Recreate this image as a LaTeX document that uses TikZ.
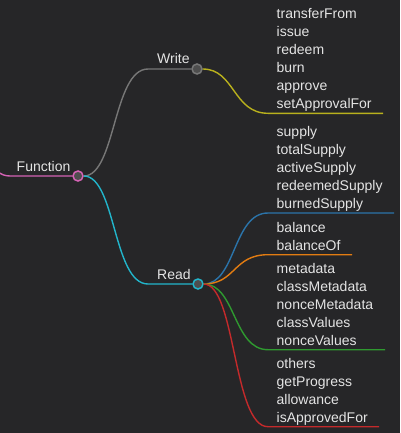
\documentclass[tikz,border=0pt]{standalone}
\usepackage{fontspec}
\setmainfont{Liberation Sans}
\definecolor{bgc}{HTML}{262628}
\definecolor{txt}{HTML}{E4E4E4}
\definecolor{hubfill}{HTML}{4E4E4E}
\definecolor{cfun}{HTML}{D563B5}
\definecolor{cwrite}{HTML}{777777}
\definecolor{cread}{HTML}{22B5CB}
\definecolor{cyel}{HTML}{B9B11D}
\definecolor{cblue}{HTML}{2B74AA}
\definecolor{corange}{HTML}{E27C12}
\definecolor{cgreen}{HTML}{2F9A30}
\definecolor{cred}{HTML}{C42A2B}
\begin{document}
\begin{tikzpicture}[
			x=1pt, y=-1pt,
			every node/.style={text=txt, font=\fontsize{14}{18}\selectfont, inner sep=0pt},
			hub/.style={circle, draw=#1, fill=hubfill, line width=1.5pt, minimum size=10pt},
			lbl/.style={anchor=base west},
			link/.style={draw=#1, line width=1.4pt}
		]
		\fill[bgc] (0,0) rectangle (400,433);
		\clip (0,0) rectangle (400,433);
		% hubs
		\node[hub=cfun] (fn) at (78,176) {};
		\node[hub=cwrite] (wr) at (197,69) {};
		\node[hub=cread] (rd) at (198,284) {};
		\node[lbl] (tfn) at (16.5,171.7) {Function};
		\node[lbl] (twr) at (157,63.5) {Write};
		\node[lbl] (trd) at (157,279) {Read};
		% ends of the links
		\coordinate (root) at (-30,150);
		\coordinate (ws) at (148,69);
		\coordinate (rs) at (148,284);
		\coordinate (ys) at (268,113.3);  \coordinate (ye) at (383,113.3);
		\coordinate (bs) at (268,213);    \coordinate (be) at (394,213);
		\coordinate (os) at (268,254.7);  \coordinate (oe) at (352,254.7);
		\coordinate (gs) at (268,349.7);  \coordinate (ge) at (385,349.7);
		\coordinate (qs) at (268,426.7);  \coordinate (qe) at (379,426.7);
		\draw[link=cfun] (root) .. controls +(20,0) and +(-20,0) .. (10,176) -- (fn.west);
		\draw[link=cwrite] (fn.east) .. controls +(32,0) and +(-35,0) .. (ws) -- (wr.west);
		\draw[link=cread] (fn.east) .. controls +(32,0) and +(-35,0) .. (rs) -- (rd.west);
		\draw[link=cyel] (wr.east) .. controls +(32,0) and +(-35,0) .. (ys) -- (ye);
		\draw[link=cblue] (rd.east) .. controls +(32,0) and +(-35,0) .. (bs) -- (be);
		\draw[link=corange] (rd.east) .. controls +(32,0) and +(-35,0) .. (os) -- (oe);
		\draw[link=cgreen] (rd.east) .. controls +(32,0) and +(-35,0) .. (gs) -- (ge);
		\draw[link=cred] (rd.east) .. controls +(32,0) and +(-35,0) .. (qs) -- (qe);
		% leaves
		\foreach \t [count=\i from 0] in {transferFrom,issue,redeem,burn,approve,setApprovalFor}
			\node[lbl] (w\i) at (276.5,18.8+18*\i) {\t};
		\foreach \t [count=\i from 0] in {supply,totalSupply,activeSupply,redeemedSupply,burnedSupply}
			\node[lbl] (s\i) at (276.5,136.5+18*\i) {\t};
		\foreach \t [count=\i from 0] in {balance,balanceOf}
			\node[lbl] (b\i) at (276.5,232.2+18*\i) {\t};
		\foreach \t [count=\i from 0] in {metadata,classMetadata,nonceMetadata,classValues,nonceValues}
			\node[lbl] (m\i) at (276.5,273.2+18*\i) {\t};
		\foreach \t [count=\i from 0] in {others,getProgress,allowance,isApprovedFor}
			\node[lbl] (o\i) at (276.5,368.2+18*\i) {\t};
	\end{tikzpicture}
\end{document}
